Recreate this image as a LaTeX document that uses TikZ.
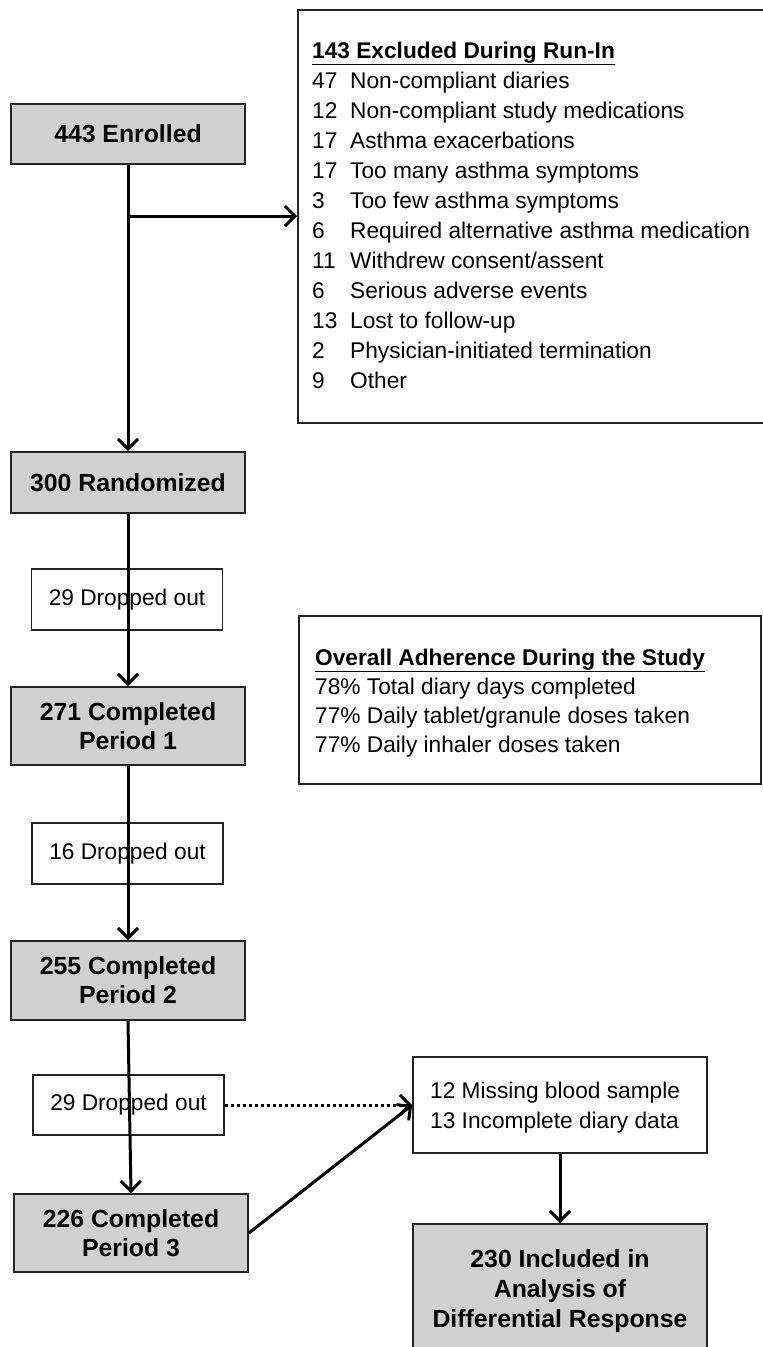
\documentclass[tikz,border=0pt]{standalone}
\usepackage{fontspec}
\setmainfont{Liberation Sans}
\usetikzlibrary{arrows.meta}
\definecolor{boxgray}{RGB}{208,208,208}
\definecolor{edgecol}{RGB}{35,35,35}
\tikzset{
  graybox/.style={draw=edgecol, line width=1.8pt, fill=boxgray, inner sep=0pt, align=center,
    minimum width=234pt, font=\fontsize{24.8}{29}\selectfont\bfseries},
  whitebox/.style={draw=edgecol, line width=1.8pt, fill=white, inner sep=0pt},
  dropbox/.style={whitebox, minimum width=191pt, minimum height=61pt, font=\fontsize{22.7}{27}\selectfont},
  listtext/.style={anchor=base west, inner sep=0pt},
  flow/.style={line width=3pt, -{Straight Barb[length=10pt,width=20pt]}},
  dotflow/.style={line width=3pt, dash pattern=on 3pt off 3pt, -{Straight Barb[length=10pt,width=20pt]}}
}
\begin{document}
\begin{tikzpicture}[x=1pt,y=-1pt]
\useasboundingbox (0,0) rectangle (763,1347);
\clip (0,0) rectangle (763,1347);

% excluded box
\node[whitebox, anchor=north west, minimum width=503pt, minimum height=413pt] (excl) at (297,9) {};
\node[listtext, font=\fontsize{22.7}{30}\selectfont] (excltext) at (312,58) {%
\begin{tabular}[t]{@{}p{38pt}@{}l@{}}
\multicolumn{2}{@{}l@{}}{\bfseries\underline{143 Excluded During Run-In}}\\
47 & Non-compliant diaries\\
12 & Non-compliant study medications\\
17 & Asthma exacerbations\\
17 & Too many asthma symptoms\\
3 & Too few asthma symptoms\\
6 & Required alternative asthma medication\\
11 & Withdrew consent/assent\\
6 & Serious adverse events\\
13 & Lost to follow-up\\
2 & Physician-initiated termination\\
9 & Other
\end{tabular}};

% adherence box
\node[whitebox, anchor=north west, minimum width=462pt, minimum height=168pt] (adh) at (298,615) {};
\node[listtext, font=\fontsize{22.7}{29}\selectfont] (adhtext) at (315,665) {%
\begin{tabular}[t]{@{}l@{}}
{\bfseries\underline{Overall Adherence During the Study}}\\
78\% Total diary days completed\\
77\% Daily tablet/granule doses taken\\
77\% Daily inhaler doses taken
\end{tabular}};

% main flow
\node[graybox, minimum height=60pt] (enr) at (128,134) {443 Enrolled};
\node[graybox, minimum height=61pt] (rand) at (128,482.5) {300 Randomized};
\node[dropbox] (d1) at (127,599.5) {29 Dropped out};
\node[graybox, minimum height=78pt] (p1) at (128,726) {271 Completed\\Period 1};
\node[dropbox] (d2) at (127.5,853.5) {16 Dropped out};
\node[graybox, minimum height=79pt] (p2) at (128,980.5) {255 Completed\\Period 2};
\node[dropbox, minimum height=60pt] (d3) at (128.5,1105) {29 Dropped out};
\node[graybox, minimum height=78pt] (p3) at (131,1233) {226 Completed\\Period 3};

% right bottom
\node[whitebox, minimum width=294pt, minimum height=96pt] (miss) at (560,1105) {};
\node[listtext, font=\fontsize{22.7}{30}\selectfont] (misstext) at (430,1098) {%
\begin{tabular}[t]{@{}l@{}}
12 Missing blood sample\\
13 Incomplete diary data
\end{tabular}};
\node[graybox, anchor=north, minimum width=294pt, minimum height=150pt] (inc) at (560,1223) {};
\node[inner sep=0pt, anchor=base, align=center, font=\fontsize{24.8}{30}\selectfont\bfseries] (inctext) at (560,1267)
  {\begin{tabular}[t]{@{}c@{}}230 Included in\\Analysis of\\Differential Response\end{tabular}};

% connectors
\coordinate (br) at (128,216);
\draw[flow] (enr.south) -- (rand.north);
\draw[flow] (br) -- (br -| excl.west);
\draw[flow] (rand.south) -- (p1.north);
\draw[flow] (p1.south) -- (p2.north);
\draw[flow] (p2.south) -- (p3.north);
\draw[dotflow] (d3.east) -- (miss.west);
\draw[flow] (p3.east) -- (miss.west);
\draw[flow] (miss.south) -- (inc.north);
\end{tikzpicture}
\end{document}
